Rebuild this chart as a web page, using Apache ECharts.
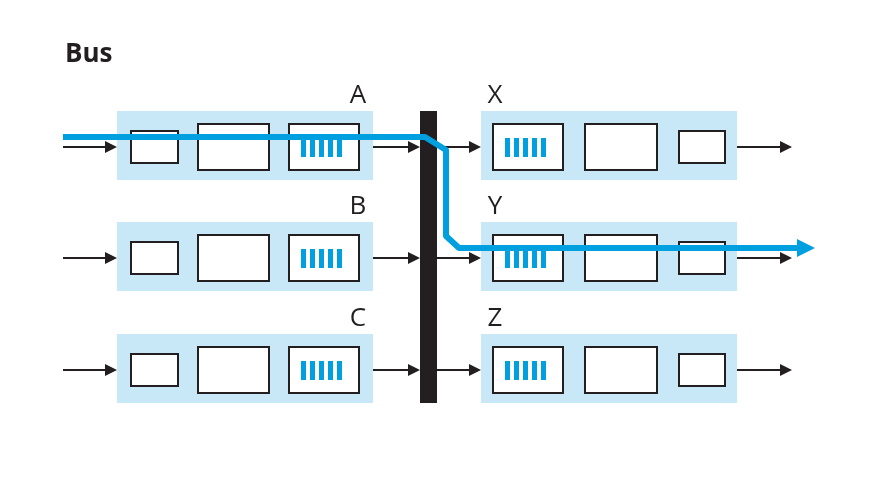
<!DOCTYPE html>
<html>
<head>
<meta charset="utf-8">
<script src="https://cdn.jsdelivr.net/npm/echarts@6/dist/echarts.min.js"></script>
</head>
<body style="margin:0;background:#fff">
<div id="main" style="width:886px;height:482px;"></div>
<script>
// row centres (y) for the three port rows
var rowY = [147, 258, 370];
var inLabels = ['A', 'B', 'C'];
var outLabels = ['X', 'Y', 'Z'];
// input port: [panelX0, panelX1], boxes [x0, x1, halfHeight]
var inPanel = [117, 373];
var inBoxes = [[131, 178, 16], [198, 269, 23], [289, 359, 23]];
var outPanel = [481, 737];
var outBoxes = [[493, 563, 23], [585, 657, 23], [679, 725, 16]];
var bus = [420, 437, 111, 403];
// arrows: [x0, x1]
var arrowsSeg = [[63, 117], [373, 420], [437, 481], [737, 792]];
// blue path through the bus
var pathPts = [[63, 137], [425, 137], [446, 150], [446, 236], [459, 248], [815, 248]];

function coord(api, x, y) { return api.coord([x, y]); }

function renderDiagram(params, api) {
    var kids = [];
    function rect(x0, y0, x1, y1, style) {
        var a = coord(api, x0, y0), b = coord(api, x1, y1);
        kids.push({ type: 'rect', shape: { x: a[0], y: a[1], width: b[0] - a[0], height: b[1] - a[1] }, style: style });
    }
    function arrow(x0, x1, y) {
        var a = coord(api, x0, y), b = coord(api, x1 - 12, y), c = coord(api, x1, y);
        kids.push({ type: 'line', shape: { x1: a[0], y1: a[1], x2: b[0], y2: b[1] }, style: { stroke: '#231f20', lineWidth: 2 } });
        kids.push({ type: 'polygon', shape: { points: [[b[0], b[1] - 6], [c[0], c[1]], [b[0], b[1] + 6]] }, style: { fill: '#231f20' } });
    }
    function queue(x0, y) {
        for (var k = 0; k < 5; k++) {
            rect(x0 + k * 9, y - 9, x0 + k * 9 + 5, y + 10, { fill: '#00a0e0' });
        }
    }
    rowY.forEach(function (y, i) {
        rect(inPanel[0], y - 36, inPanel[1], y + 33, { fill: '#c8e8f8' });
        rect(outPanel[0], y - 36, outPanel[1], y + 33, { fill: '#c8e8f8' });
        inBoxes.concat(outBoxes).forEach(function (b) {
            rect(b[0], y - b[2], b[1], y + b[2], { fill: '#fff', stroke: '#231f20', lineWidth: 2 });
        });
        queue(inBoxes[2][0] + 12, y);
        queue(outBoxes[0][0] + 12, y);
        arrowsSeg.forEach(function (s) { arrow(s[0], s[1], y); });
        var la = coord(api, 358, y - 51), lb = coord(api, 495, y - 51);
        kids.push({ type: 'text', style: { text: inLabels[i], x: la[0], y: la[1], fill: '#231f20', font: '26px "Open Sans"', align: 'center', verticalAlign: 'middle' } });
        kids.push({ type: 'text', style: { text: outLabels[i], x: lb[0], y: lb[1], fill: '#231f20', font: '26px "Open Sans"', align: 'center', verticalAlign: 'middle' } });
    });
    rect(bus[0], bus[2], bus[1], bus[3], { fill: '#231f20' });
    var pts = pathPts.map(function (p) { return coord(api, p[0], p[1]); });
    kids.push({ type: 'polyline', shape: { points: pts.slice(0, -1).concat([[pts[5][0] - 14, pts[5][1]]]), smooth: 0 }, style: { stroke: '#00a0e0', lineWidth: 6, fill: null, lineJoin: 'round' } });
    var e = pts[5];
    kids.push({ type: 'polygon', shape: { points: [[e[0] - 18, e[1] - 9], [e[0], e[1]], [e[0] - 18, e[1] + 9]] }, style: { fill: '#00a0e0' } });
    var t = coord(api, 65, 55);
    kids.push({ type: 'text', style: { text: 'Bus', x: t[0], y: t[1], fill: '#231f20', font: 'bold 26px "Open Sans"', verticalAlign: 'middle' } });
    return { type: 'group', children: kids };
}

var chart = echarts.init(document.getElementById('main'));
chart.setOption({
    animation: false,
    grid: { left: 0, right: 0, top: 0, bottom: 0 },
    xAxis: { type: 'value', min: 0, max: 886, show: false },
    yAxis: { type: 'value', min: 0, max: 482, inverse: true, show: false },
    series: [{ type: 'custom', renderItem: renderDiagram, data: [[0, 0]], clip: false }]
});
</script>
</body>
</html>
